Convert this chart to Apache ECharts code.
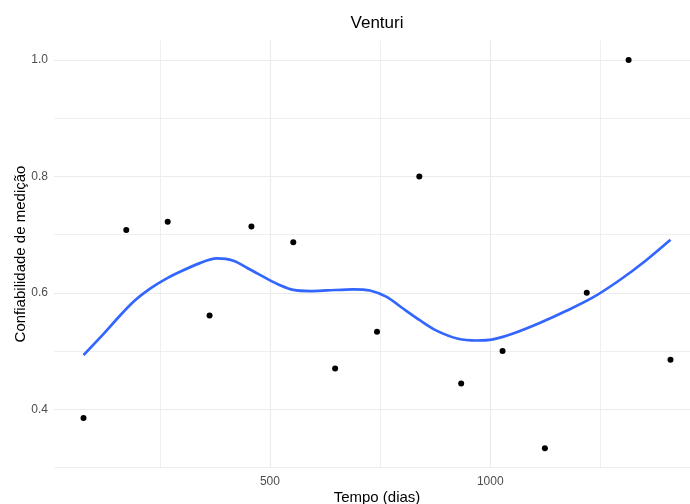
<!DOCTYPE html>
<html>
<head>
<meta charset="utf-8">
<title>Venturi</title>
<script src="https://cdn.jsdelivr.net/npm/echarts@6/dist/echarts.min.js"></script>
<style>
  html, body { margin: 0; padding: 0; background: #ffffff; }
  #chart { width: 690px; height: 504px; }
</style>
</head>
<body>
<div id="chart"></div>
<script>
// Observed reliability of the Venturi meter over time (days)
const tempoDias = [77, 174, 268, 363, 458, 553, 648, 743, 839, 934, 1028, 1124, 1219, 1314, 1409];
const confiabilidade = [0.385, 0.708, 0.722, 0.561, 0.714, 0.687, 0.470, 0.533, 0.800, 0.444, 0.500, 0.333, 0.600, 1.000, 0.485];

// Smoothed trend (loess) sampled along the time axis
const suaveX = [77, 122, 160, 194, 228, 262, 296, 341, 379, 417, 455, 496, 523, 553, 591, 629, 689, 727, 765, 802, 840, 878, 927, 969, 1006, 1052, 1112, 1173, 1233, 1294, 1354, 1409];
const suaveY = [0.493, 0.529, 0.561, 0.587, 0.607, 0.623, 0.636, 0.651, 0.659, 0.655, 0.640, 0.623, 0.613, 0.605, 0.603, 0.604, 0.606, 0.604, 0.593, 0.573, 0.553, 0.535, 0.521, 0.518, 0.520, 0.530, 0.548, 0.569, 0.592, 0.622, 0.656, 0.691];

// Axis ticks: labelled (major) and unlabelled (minor) grid positions
const xMajor = [500, 1000];
const xMinor = [250, 750, 1250];
const yMajor = [0.4, 0.6, 0.8, 1.0];
const yMinor = [0.3, 0.5, 0.7, 0.9];

const gridColor = '#EBEBEB';
const font = '"Liberation Sans", Arial, Helvetica, sans-serif';

const chart = echarts.init(document.getElementById('chart'), null, { renderer: 'canvas' });

const gridLines = []
  .concat(xMinor.map(v => ({ xAxis: v, lineStyle: { width: 0.8 } })))
  .concat(xMajor.map(v => ({ xAxis: v, lineStyle: { width: 1.1 } })))
  .concat(yMinor.map(v => ({ yAxis: v, lineStyle: { width: 0.8 } })))
  .concat(yMajor.map(v => ({ yAxis: v, lineStyle: { width: 1.1 } })));

chart.setOption({
  animation: false,
  backgroundColor: '#ffffff',
  title: {
    text: 'Venturi',
    left: 377,
    top: 15,
    textAlign: 'center',
    padding: 0,
    textStyle: { fontFamily: font, fontSize: 17, fontWeight: 'normal', color: '#000000' }
  },
  grid: {
    left: 54, right: -10, top: 40.6, bottom: 36.6,
    containLabel: false,
    outerBoundsMode: 'none'
  },
  xAxis: {
    type: 'value',
    min: 10,
    max: 1476,
    name: 'Tempo (dias)',
    nameLocation: 'middle',
    nameGap: 23,
    nameMoveOverlap: false,
    nameTextStyle: { fontFamily: font, fontSize: 15, color: '#000000' },
    axisLine: { show: false },
    axisTick: { show: false },
    splitLine: { show: false },
    axisLabel: {
      customValues: xMajor,
      margin: 8,
      fontFamily: font,
      fontSize: 12,
      color: '#4D4D4D',
      formatter: v => String(v)
    }
  },
  yAxis: {
    type: 'value',
    min: 0.3,
    max: 1.0333,
    name: 'Confiabilidade de medição',
    nameLocation: 'middle',
    nameRotate: 90,
    nameGap: 26,
    nameMoveOverlap: false,
    nameTextStyle: { fontFamily: font, fontSize: 15, color: '#000000' },
    axisLine: { show: false },
    axisTick: { show: false },
    splitLine: { show: false },
    axisLabel: {
      customValues: yMajor,
      margin: 6,
      fontFamily: font,
      fontSize: 12,
      color: '#4D4D4D',
      formatter: v => v.toFixed(1)
    }
  },
  series: [
    {
      // panel grid lines
      type: 'scatter',
      data: [],
      z: 0,
      silent: true,
      markLine: {
        silent: true,
        z: 0,
        symbol: 'none',
        animation: false,
        label: { show: false },
        emphasis: { disabled: true },
        lineStyle: { color: gridColor, type: 'solid' },
        data: gridLines
      }
    },
    {
      type: 'scatter',
      data: tempoDias.map((t, i) => [t, confiabilidade[i]]),
      symbol: 'circle',
      symbolSize: 6,
      itemStyle: { color: '#000000', opacity: 1 },
      z: 10
    },
    {
      type: 'line',
      data: suaveX.map((t, i) => [t, suaveY[i]]),
      smooth: 0.3,
      showSymbol: false,
      lineStyle: { color: '#3366FF', width: 2.7 },
      z: 11
    }
  ]
});
</script>
</body>
</html>
